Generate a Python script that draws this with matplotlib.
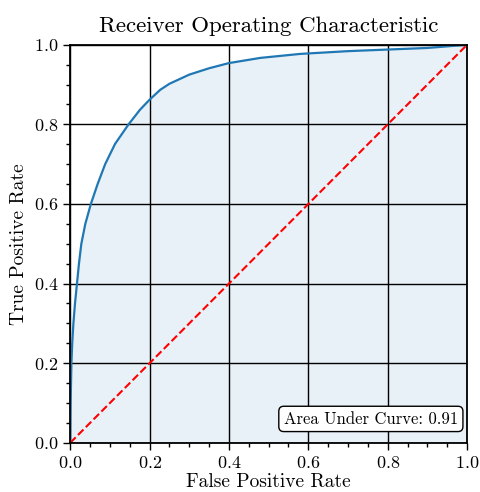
import matplotlib
matplotlib.use("Agg")
import matplotlib.pyplot as plt
from matplotlib.ticker import MultipleLocator

plt.rcParams['font.family'] = ['cmr10', 'DejaVu Serif']
plt.rcParams['mathtext.fontset'] = 'cm'
plt.rcParams['axes.formatter.use_mathtext'] = True

# ROC points
fpr = [0.0, 0.0005, 0.001, 0.002, 0.003, 0.005, 0.008, 0.012, 0.017, 0.022,
       0.028, 0.038, 0.052, 0.069, 0.088, 0.113, 0.147, 0.176, 0.2, 0.227,
       0.25, 0.3, 0.35, 0.4, 0.479, 0.579, 0.7, 0.8, 0.9, 1.0]
tpr = [0.0, 0.05, 0.1, 0.15, 0.2, 0.25, 0.3, 0.35, 0.4, 0.45,
       0.5, 0.55, 0.6, 0.65, 0.7, 0.751, 0.8, 0.837, 0.862, 0.887,
       0.902, 0.925, 0.941, 0.954, 0.967, 0.977, 0.984, 0.988, 0.992, 1.0]
auc = 0.91

fig, ax = plt.subplots(figsize=(4.81, 4.92), dpi=100)
fig.subplots_adjust(left=0.146, right=0.971, bottom=0.1, top=0.909)

ax.plot(fpr, tpr, color='#1f77b4', lw=1.6)
ax.fill_between(fpr, tpr, color='#1f77b4', alpha=0.1, lw=0)
ax.plot([0, 1], [0, 1], color='red', ls='--', lw=1.5)

ax.set_xlim(0, 1)
ax.set_ylim(0, 1)
ax.xaxis.set_major_locator(MultipleLocator(0.2))
ax.yaxis.set_major_locator(MultipleLocator(0.2))
ax.xaxis.set_minor_locator(MultipleLocator(0.05))
ax.yaxis.set_minor_locator(MultipleLocator(0.05))
ax.tick_params(which='major', length=5, width=1, labelsize=13)
ax.tick_params(which='minor', length=3, width=1)
ax.grid(True, which='major', color='black', lw=1)
for s in ax.spines.values():
    s.set_linewidth(1.3)

ax.set_title('Receiver Operating Characteristic', fontsize=16.5, pad=9)
ax.set_xlabel('False Positive Rate', fontsize=14, labelpad=2)
ax.set_ylabel('True Positive Rate', fontsize=14)

ax.text(0.977, 0.06, f'Area Under Curve: {auc:.2f}', transform=ax.transAxes,
        ha='right', va='center', fontsize=12,
        bbox=dict(boxstyle='round,pad=0.3', fc='white', ec='black'))

fig.savefig('out.png', dpi=100)
